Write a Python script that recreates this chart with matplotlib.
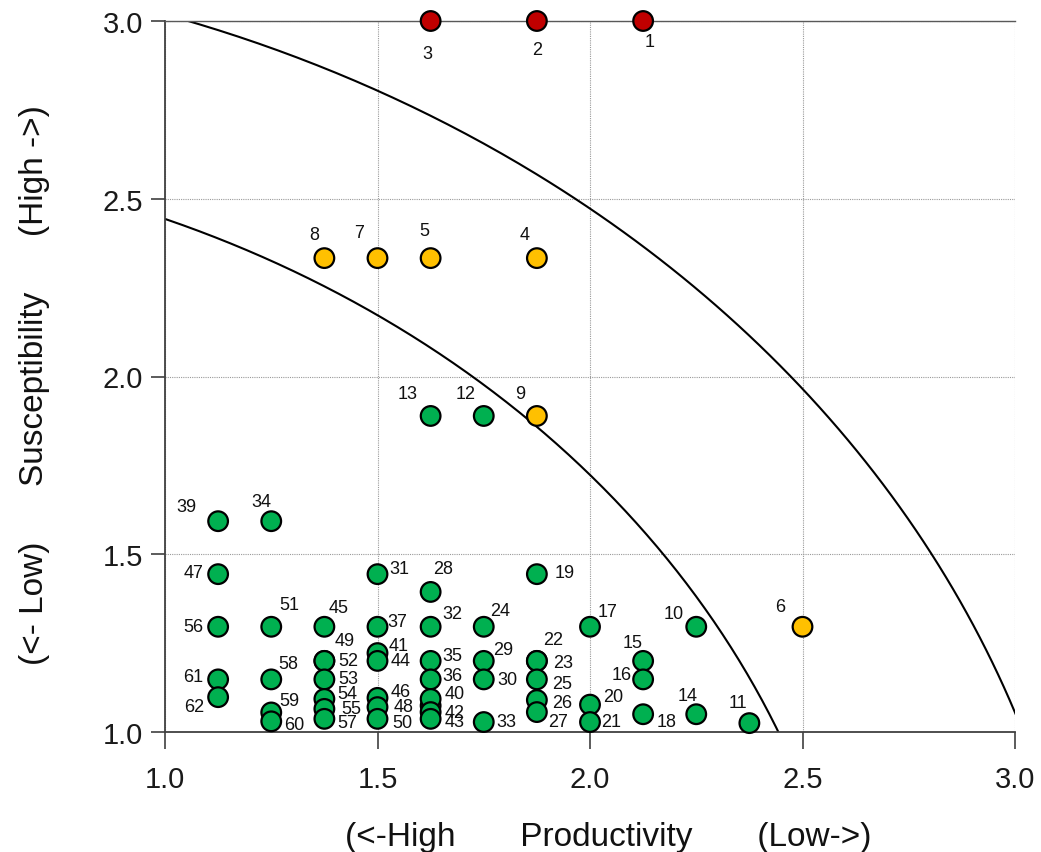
import numpy as np
import matplotlib
matplotlib.use("Agg")
import matplotlib.pyplot as plt

plt.rcParams["font.family"] = ["Liberation Sans", "DejaVu Sans"]

# ---- data ----
ids = list(range(1, 63))
productivity = [
    2.125, 1.875, 1.625, 1.875, 1.625, 2.5, 1.5, 1.375, 1.875, 2.25,      # 1-10
    2.375, 1.75, 1.625, 2.25, 2.125, 2.125, 2.0, 2.125, 1.875, 2.0,       # 11-20
    2.0, 1.875, 1.875, 1.75, 1.875, 1.875, 1.875, 1.625, 1.75, 1.75,      # 21-30
    1.5, 1.625, 1.75, 1.25, 1.625, 1.625, 1.5, 1.625, 1.125, 1.625,       # 31-40
    1.5, 1.625, 1.625, 1.5, 1.375, 1.5, 1.125, 1.5, 1.375, 1.5,           # 41-50
    1.25, 1.375, 1.375, 1.375, 1.375, 1.125, 1.375, 1.25, 1.25, 1.25,     # 51-60
    1.125, 1.125,                                                         # 61-62
]
susceptibility = [
    3.0, 3.0, 3.0, 2.333, 2.333, 1.296, 2.333, 2.333, 1.889, 1.296,       # 1-10
    1.025, 1.889, 1.889, 1.05, 1.2, 1.148, 1.296, 1.05, 1.444, 1.077,     # 11-20
    1.028, 1.2, 1.2, 1.296, 1.148, 1.09, 1.056, 1.394, 1.2, 1.148,        # 21-30
    1.444, 1.296, 1.028, 1.593, 1.2, 1.148, 1.296, 1.074, 1.593, 1.093,   # 31-40
    1.222, 1.056, 1.037, 1.2, 1.296, 1.096, 1.444, 1.07, 1.2, 1.037,      # 41-50
    1.296, 1.2, 1.148, 1.093, 1.065, 1.296, 1.037, 1.148, 1.055, 1.03,    # 51-60
    1.148, 1.098,                                                         # 61-62
]
high_ids = [1, 2, 3]
medium_ids = [4, 5, 6, 7, 8, 9]
hidden_label_ids = [38]

# boundary arcs (circles around origin)
inner_radius = 2.64
outer_radius = 3.18

# ---- label offsets in pixels (dx right, dy down) ----
label_offsets = {
    1: (6, 21), 2: (0, 29), 3: (-3, 33), 4: (-12, -24), 5: (-6, -28),
    6: (-22, -20), 7: (-18, -26), 8: (-10, -24), 9: (-17, -22), 10: (-23, -13),
    11: (-11, -21), 12: (-18, -22), 13: (-23, -22), 14: (-9, -19), 15: (-11, -18),
    16: (-21, -5), 17: (18, -15), 18: (24, 7), 19: (28, -2), 20: (23, -8),
    21: (21, -1), 22: (16, -21), 23: (26, 2), 24: (16, -16), 25: (25, 4),
    26: (25, 2), 27: (21, 9), 28: (12, -23), 29: (19, -11), 30: (24, 0),
    31: (22, -6), 32: (22, -13), 33: (23, -1), 34: (-10, -20), 35: (22, -5),
    36: (22, -4), 37: (20, -5), 39: (-32, -15), 40: (24, -5),
    41: (21, -8), 42: (24, 0), 43: (24, 3), 44: (23, 0), 45: (14, -19),
    46: (23, -6), 47: (-25, -2), 48: (26, -1), 49: (20, -20), 50: (25, 4),
    51: (18, -22), 52: (24, 0), 53: (24, -1), 54: (23, -5), 55: (27, 0),
    56: (-25, 0), 57: (23, 4), 58: (17, -16), 59: (18, -12), 60: (23, 3),
    61: (-25, -3), 62: (-24, 9),
}

RED = "#C00000"
YELLOW = "#FFC000"
GREEN = "#00B050"

colors = []
for i in ids:
    if i in high_ids:
        colors.append(RED)
    elif i in medium_ids:
        colors.append(YELLOW)
    else:
        colors.append(GREEN)

fig = plt.figure(figsize=(10.41, 8.53), dpi=100)
ax = fig.add_axes([165 / 1041, 1 - 733 / 853, 850 / 1041, 711 / 853])

# grid
ax.set_xlim(1.0, 3.0)
ax.set_ylim(1.0, 3.0)
ticks = [1.0, 1.5, 2.0, 2.5, 3.0]
ax.set_xticks(ticks)
ax.set_yticks(ticks)
ax.set_xticklabels([f"{t:.1f}" for t in ticks])
ax.set_yticklabels([f"{t:.1f}" for t in ticks])
ax.grid(True, color="#9a9a9a", linestyle=(0, (1, 1)), linewidth=0.8, zorder=0)
ax.set_axisbelow(True)

for side in ("left", "bottom"):
    ax.spines[side].set_color("#404040")
    ax.spines[side].set_linewidth(1.3)
ax.spines["top"].set_color("#595959")
ax.spines["top"].set_linewidth(1.0)
ax.spines["right"].set_visible(False)

ax.tick_params(axis="x", direction="out", length=12, width=1.2, pad=12,
               labelsize=21, colors="#404040", labelcolor="#1a1a1a")
ax.tick_params(axis="y", direction="out", length=10, width=1.2, pad=6,
               labelsize=21, colors="#404040", labelcolor="#1a1a1a")

# arcs
th = np.linspace(0, np.pi / 2, 400)
for r in (inner_radius, outer_radius):
    ax.plot(r * np.cos(th), r * np.sin(th), color="black", lw=1.5, zorder=2)

# points (drawn in id order so lower ones sit on top)
ax.scatter(productivity, susceptibility, s=200, c=colors, edgecolors="black",
           linewidths=1.6, zorder=3, clip_on=False)

for i, x, y in zip(ids, productivity, susceptibility):
    if i in hidden_label_ids or i not in label_offsets:
        continue
    dx, dy = label_offsets[i]
    ax.annotate(str(i), (x, y), xytext=(dx * 0.72, -dy * 0.72),
                textcoords="offset points", ha="center", va="center",
                fontsize=13, color="#111111", zorder=4, annotation_clip=False)

gap = " " * 6
ax.set_ylabel(f"(<- Low){gap}Susceptibility{gap}(High ->)", fontsize=24, color="#111111")
ax.yaxis.set_label_coords(-0.135, 0.49)
gap = " " * 7
ax.set_xlabel(f"(<-High{gap}Productivity{gap}(Low->)", fontsize=24, color="#111111")
ax.xaxis.set_label_coords(0.522, -0.125)

fig.savefig("out.png", dpi=100)
